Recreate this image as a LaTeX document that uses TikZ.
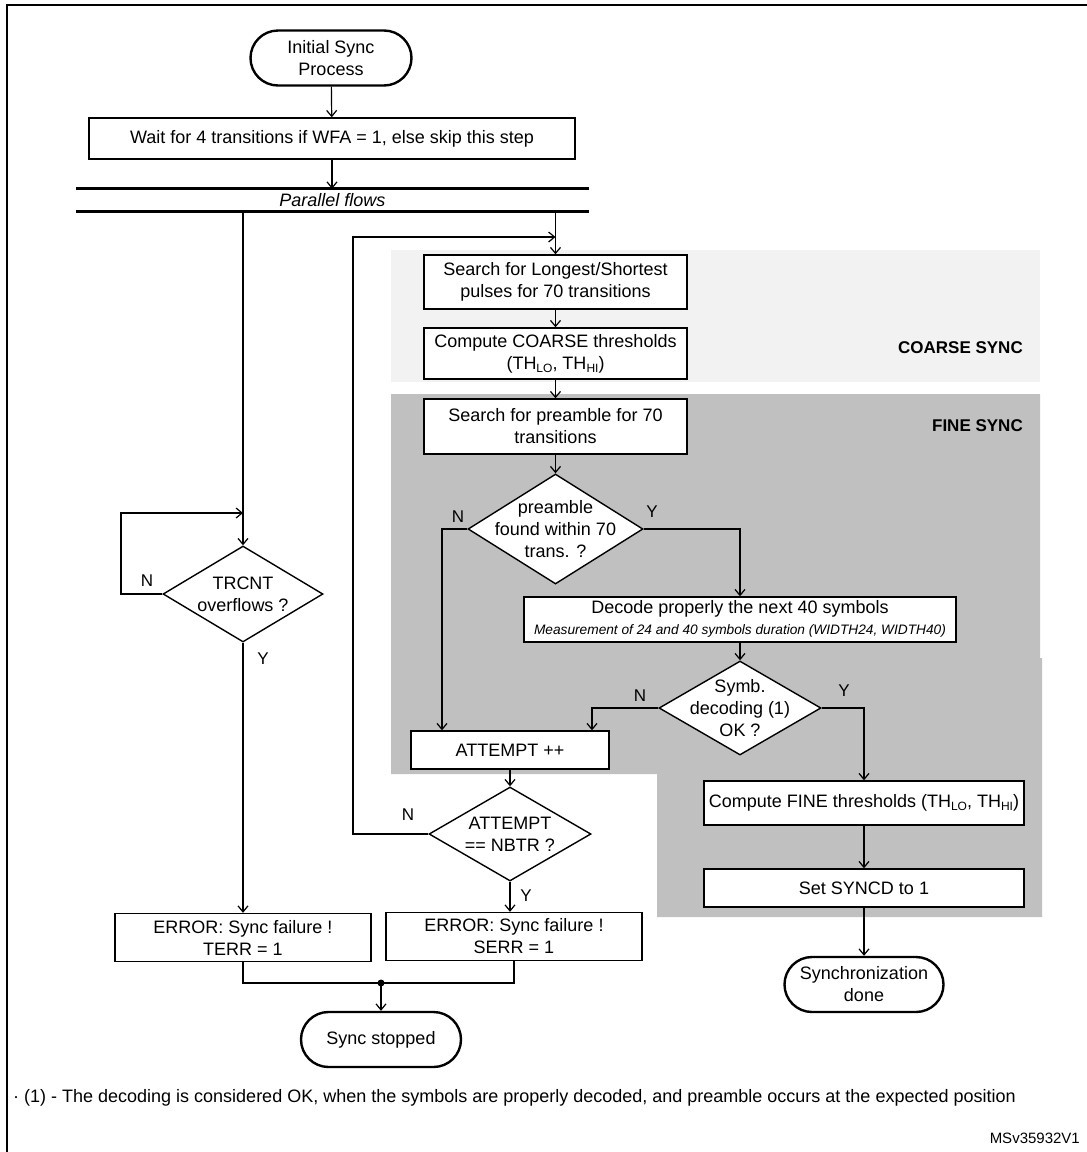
\documentclass[tikz,border=0pt]{standalone}
\usepackage{fontspec}
\setmainfont{Liberation Sans}
\usetikzlibrary{shapes.geometric,shapes.misc,arrows.meta}
\definecolor{coarsebg}{RGB}{242,242,242}
\definecolor{finebg}{RGB}{192,192,192}
\newcommand{\fsmain}{\fontsize{18}{22}\selectfont}
\newcommand{\fslbl}{\fontsize{17}{20}\selectfont}
\newcommand{\lsub}[1]{\raisebox{-3pt}{\fontsize{12}{12}\selectfont #1}}
\begin{document}
\begin{tikzpicture}[x=1pt,y=-1pt,
  box/.style={draw,line width=1.4pt,fill=white,inner sep=0pt,align=center,font=\fsmain},
  term/.style={rounded rectangle,draw,line width=2.4pt,fill=white,inner sep=0pt,minimum height=55pt},
  dec/.style={diamond,draw,line width=1.4pt,fill=white,inner sep=0pt},
  txt/.style={align=center,font=\fsmain,inner sep=0pt},
  lbl/.style={font=\fslbl,inner sep=0pt},
  zone/.style={font=\fontsize{17}{20}\selectfont\bfseries,inner sep=0pt,anchor=east},
  conn/.style={line width=1.2pt},
  arr/.style={conn,-{Straight Barb[length=6pt,width=10pt]}},
  bar/.style={line width=3pt}
]
\useasboundingbox (0,0) rectangle (1087,1152);
\fill[white] (0,0) rectangle (1087,1152);

% background zones
\fill[coarsebg] (391,250) rectangle (1040,382);
\fill[finebg] (391,394) -- (1040,394) -- (1040,658) -- (1042,658) -- (1042,917) -- (657,917) -- (657,774) -- (391,774) -- cycle;
\node[zone] (coarse) at (1023,348) {COARSE SYNC};
\node[zone] (finez) at (1023,426) {FINE SYNC};

% frame
\draw[line width=2pt] (1087,5) -- (7,5) -- (7,1152);

% top
\node[term,minimum width=161pt] (start) at (331,58) {};
\node[txt] (startt) at (start) {Initial Sync\\Process};
\node[box,minimum width=486pt,minimum height=41pt] (wait) at (332,138.5) {Wait for 4 transitions if WFA = 1, else skip this step};
\node[inner sep=0pt,minimum width=513pt,minimum height=22pt] (fork) at (332.5,200) {};
\draw[bar] (fork.north west) -- (fork.north east);
\draw[bar] (fork.south west) -- (fork.south east);
\node[txt,font=\fsmain\itshape] (part) at (fork) {Parallel flows};
\draw[arr] (start) -- (wait);
\draw[arr] (wait) -- (wait.south |- fork.north);

% left flow
\node[dec,minimum width=160pt,minimum height=96pt] (trcnt) at (243,594) {};
\node[txt] (trcntt) at (trcnt) {TRCNT\\overflows ?};
\node[box,minimum width=256pt,minimum height=48pt] (terr) at (243,937.5) {ERROR: Sync failure !\\TERR = 1};
\coordinate (lb) at (243,211);
\coordinate (trloop) at (243,513);
\coordinate (trn) at (121,594);
\draw[arr] (lb) -- (trcnt.north);
\draw[arr] (trcnt.west) -- (trn) |- (trloop);
\draw[arr] (trcnt.south) -- (terr.north);
\node[lbl] (trN) at (147,581) {N};
\node[lbl] (trY) at (263,659) {Y};

% right flow
\node[box,minimum width=263pt,minimum height=54pt] (s1) at (555.5,282) {Search for Longest/Shortest\\pulses for 70 transitions};
\node[box,minimum width=263pt,minimum height=51pt] (s2) at (555.5,353.5) {Compute COARSE thresholds\\(TH\lsub{LO}, TH\lsub{HI})};
\node[box,minimum width=263pt,minimum height=55pt] (s3) at (555.5,426.5) {Search for preamble for 70\\transitions};
\node[dec,minimum width=175pt,minimum height=110pt] (pre) at (555.5,529) {};
\node[txt] (pret) at (pre) {preamble\\found within 70\\trans. ?};
\node[box,minimum width=432pt,minimum height=45pt] (dec1) at (740,619.5) {};
\node[txt] (dec1a) at (740,609) {Decode properly the next 40 symbols};
\node[txt,font=\fontsize{13.7}{15}\selectfont\itshape] (dec1b) at (740,631) {Measurement of 24 and 40 symbols duration (WIDTH24, WIDTH40)};
\node[dec,minimum width=162pt,minimum height=94pt] (symb) at (740,708) {};
\node[txt] (symbt) at (symb) {Symb.\\decoding (1)\\OK ?};
\node[box,minimum width=198pt,minimum height=38pt] (inc) at (510,750) {ATTEMPT ++};
\node[dec,minimum width=162pt,minimum height=94pt] (att) at (510,834) {};
\node[txt] (attt) at (att) {ATTEMPT\\== NBTR ?};
\node[box,minimum width=256pt,minimum height=48pt] (serr) at (514,936.5) {ERROR: Sync failure !\\SERR = 1};
\node[box,minimum width=320pt,minimum height=44pt] (fine) at (864,803) {Compute FINE thresholds (TH\lsub{LO}, TH\lsub{HI})};
\node[box,minimum width=320pt,minimum height=38pt] (syncd) at (864,888) {Set SYNCD to 1};
\node[term,minimum width=159pt] (done) at (864,984.5) {};
\node[txt] (donet) at (done) {Synchronization\\done};
\node[term,minimum width=160pt] (stop) at (381,1039.5) {};
\node[txt] (stopt) at (stop) {Sync stopped};

\coordinate (rb) at (555.5,211);
\coordinate (rloop) at (555.5,237);
\coordinate (attn) at (353,834);
\coordinate (pn) at (442,529);
\coordinate (sn) at (592,708);
\coordinate (j) at (381,983);

\draw[arr] (rb) -- (s1.north);
\draw[arr] (s1) -- (s2);
\draw[arr] (s2) -- (s3);
\draw[arr] (s3) -- (pre);
\draw[arr] (pre.west) -- (pn) -- (pn |- inc.north);
\draw[arr] (pre.east) -| (dec1.north);
\draw[arr] (dec1) -- (symb);
\draw[arr] (symb.west) -- (sn) -- (sn |- inc.north);
\draw[arr] (symb.east) -| (fine.north);
\draw[arr] (inc) -- (att);
\draw[arr] (att.west) -- (attn) |- (rloop);
\draw[arr] (att.south) -- (att.south |- serr.north);
\draw[arr] (fine) -- (syncd);
\draw[arr] (syncd) -- (done);
\draw[conn] (terr.south) |- (j) -| (serr.south);
\fill (j) circle (3.5pt);
\draw[arr] (j) -- (stop.north);

\node[lbl] (pN) at (458,517) {N};
\node[lbl] (pY) at (652,512) {Y};
\node[lbl] (sN) at (640,696) {N};
\node[lbl] (sY) at (844,691) {Y};
\node[lbl] (aN) at (408,815) {N};
\node[lbl] (aY) at (526,896) {Y};

% footnote
\node[anchor=west,inner sep=0pt,font=\fontsize{18}{21}\selectfont] (foot) at (13,1098) {· (1) - The decoding is considered OK, when the symbols are properly decoded, and preamble occurs at the expected position};
\node[anchor=east,inner sep=0pt,font=\fontsize{15}{18}\selectfont] (ref) at (1080,1138) {MSv35932V1};
\end{tikzpicture}
\end{document}
